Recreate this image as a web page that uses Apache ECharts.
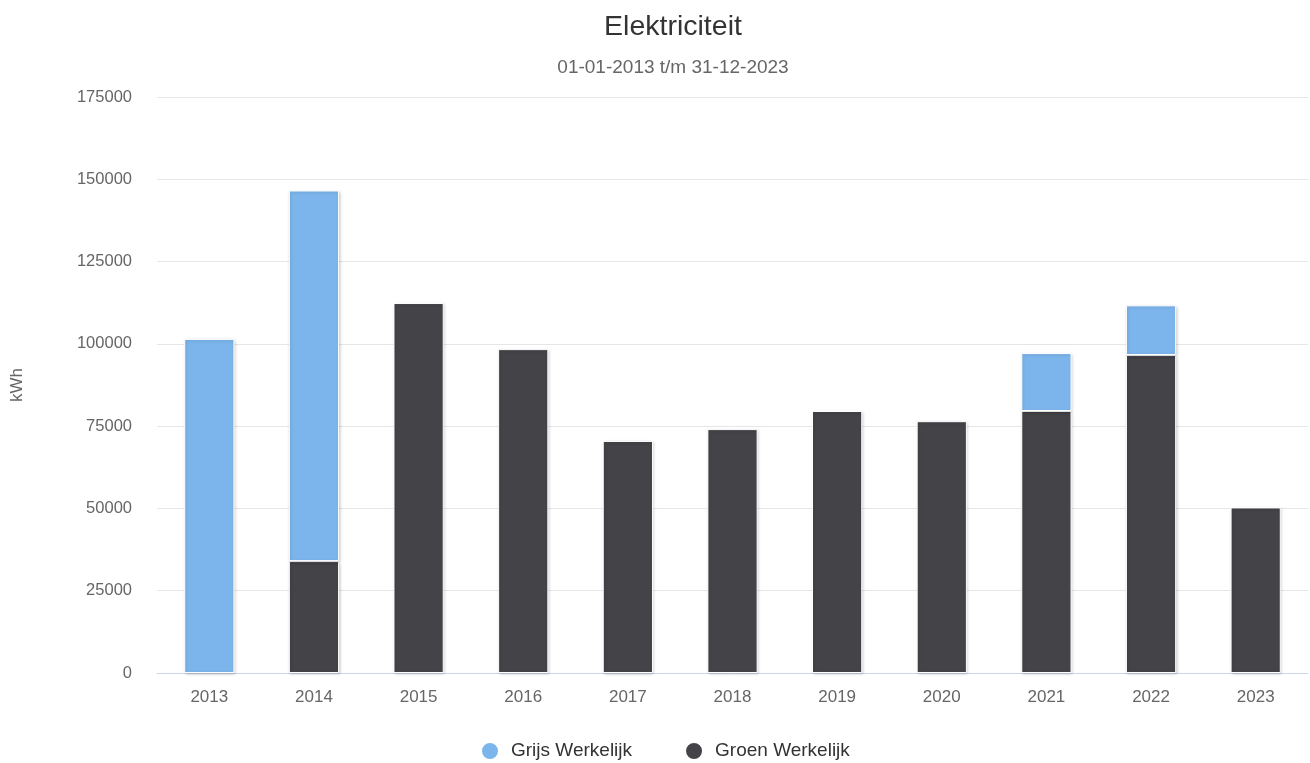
<!DOCTYPE html>
<html>
<head>
<meta charset="utf-8">
<title>Elektriciteit</title>
<script src="https://cdn.jsdelivr.net/npm/echarts@6/dist/echarts.min.js"></script>
<style>
  html, body { margin: 0; padding: 0; background: #fff; }
  #chart { width: 1310px; height: 763px; }
</style>
</head>
<body>
<div id="chart"></div>
<script>
// Yearly electricity use, split into grey and green supply (kWh)
const years = ['2013', '2014', '2015', '2016', '2017', '2018', '2019', '2020', '2021', '2022', '2023'];
const groenWerkelijk = [null, 34000, 112400, 98400, 70500, 74100, 79600, 76500, 79600, 96600, 50300];
const grijsWerkelijk = [101500, 112600, null, null, null, null, null, null, 17600, 15100, null];
const yTicks = { min: 0, max: 175000, interval: 25000 };

const chart = echarts.init(document.getElementById('chart'), null, { renderer: 'canvas' });

const barStyle = (color) => ({
  color: color,
  borderColor: '#ffffff',
  borderWidth: 1,
  shadowColor: 'rgba(0,0,0,0.18)',
  shadowBlur: 3,
  shadowOffsetX: 1,
  shadowOffsetY: 1
});

chart.setOption({
  animation: false,
  textStyle: { fontFamily: 'Liberation Sans, Arial, sans-serif' },
  title: {
    text: 'Elektriciteit',
    subtext: '01-01-2013 t/m 31-12-2023',
    left: 668,
    textAlign: 'center',
    top: 8,
    itemGap: 16,
    textStyle: { fontSize: 28.5, fontWeight: 'normal', color: '#333333' },
    subtextStyle: { fontSize: 19, color: '#666666' }
  },
  legend: {
    data: ['Grijs Werkelijk', 'Groen Werkelijk'],
    top: 736,
    left: 475,
    icon: 'circle',
    itemWidth: 18,
    itemHeight: 18,
    itemGap: 52,
    textStyle: { fontSize: 19, color: '#333333', padding: [0, 0, 0, 7] }
  },
  grid: { left: 157, right: 2, top: 97, bottom: 90, containLabel: false },
  xAxis: {
    type: 'category',
    data: years,
    axisLine: { show: true, lineStyle: { color: '#ccd6eb', width: 1 } },
    axisTick: { show: false },
    axisLabel: { fontSize: 17, color: '#666666', margin: 16 },
    splitLine: { show: false }
  },
  yAxis: {
    type: 'value',
    min: yTicks.min,
    max: yTicks.max,
    interval: yTicks.interval,
    name: 'kWh',
    nameLocation: 'middle',
    nameGap: 131,
    nameRotate: 90,
    nameTextStyle: { fontSize: 17, color: '#666666' },
    axisLine: { show: false },
    axisTick: { show: false },
    axisLabel: {
      fontSize: 16.5,
      color: '#666666',
      margin: 25,
      formatter: (v) => String(v)
    },
    splitLine: { lineStyle: { color: '#e6e6e6', width: 1 } }
  },
  series: [
    {
      name: 'Groen Werkelijk',
      type: 'bar',
      stack: 'totaal',
      data: groenWerkelijk,
      barWidth: '48%',
      itemStyle: barStyle('#434348')
    },
    {
      name: 'Grijs Werkelijk',
      type: 'bar',
      stack: 'totaal',
      data: grijsWerkelijk,
      barWidth: '48%',
      itemStyle: barStyle('#7cb5ec')
    }
  ],
  color: ['#434348', '#7cb5ec']
});
</script>
</body>
</html>
